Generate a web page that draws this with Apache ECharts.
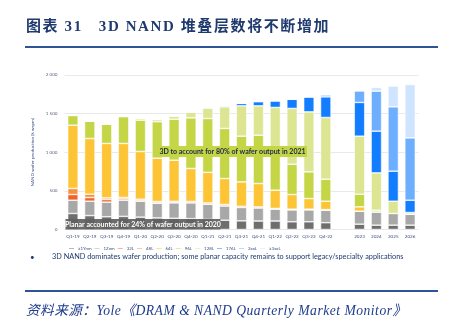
<!DOCTYPE html>
<html><head><meta charset="utf-8">
<script src="https://cdn.jsdelivr.net/npm/echarts@6/dist/echarts.min.js"></script>
<style>
html,body{margin:0;padding:0;background:#fff;}
#wrap{position:relative;width:455px;height:324px;overflow:hidden;}
#chart{position:absolute;left:0;top:0;width:455px;height:324px;}
.title{position:absolute;left:26px;top:14px;font-family:"Liberation Serif","Noto Sans CJK SC",serif;font-weight:bold;font-size:15px;color:#1f3a6e;white-space:nowrap;letter-spacing:1.6px;}
.rule{position:absolute;left:25px;width:413px;height:2px;background:#2f5496;}
.source{position:absolute;left:26px;top:299px;font-family:"Liberation Serif","Noto Sans CJK SC",serif;font-style:italic;font-size:13.6px;color:#1f3c8c;white-space:nowrap;letter-spacing:0.5px;}
</style></head>
<body><div id="wrap">
<div id="chart"></div>
<div class="title">图表 31&nbsp;&nbsp;&nbsp;3D NAND 堆叠层数将不断增加</div>
<div class="rule" style="top:46px"></div>
<div class="rule" style="top:290px"></div>
<div class="source">资料来源：Yole《DRAM &amp; NAND Quarterly Market Monitor》</div>
</div>
<script>
const categories = ['Q1-19','Q2-19','Q3-19','Q4-19','Q1-20','Q2-20','Q3-20','Q4-20','Q1-21','Q2-21','Q3-21','Q4-21','Q1-22','Q2-22','Q3-22','Q4-22','','2023','2024','2025','2026'];
const yTicks = [0, 500, 1000, 1500, 2000];
const seriesNames = ['≥1Ynm','1Znm','32L','48L','64L','96L','128L','176L','2xxL','≥3xxL'];
const nm1Y  = [207,180,165,170,160,150,145,140,130,120,112,110,110,100,100, 88,null, 69, 56, 56, 56];
const nm1Z  = [172,186,189,209,206,190,200,205,198,186,173,170,155,155,155,162,null,168,172,151,142];
const l32   = [ 74, 48, 34, 17,  9,  5,  5,  3,  0,  0,  0,  0,  0,  0,  0,  0,null,  0,  0,  0,  0];
const l48   = [ 78, 43, 21, 18, 17, 17, 15, 15, 16, 18, 15, 13,  8,  8,  8,  8,null,  0,  0,  0,  0];
const l64   = [819,721,705,700,618,561,532,427,396,336,316,302,236,190,138,108,null, 56,  0,  0,  0];
const l96   = [126,227,250,346,405,472,531,655,697,648,592,626,491,392,345,285,null,164, 22,  0,  0];
const l128  = [  0,  0,  0, 10, 22, 28, 43, 78,138,280,393,380,580,722,777,799,null,751,483,159, 22];
const l176  = [  0,  0,  0,  0,  0,  0,  0,  0,  0, 13, 31, 55, 86,119,194,267,null,437,540,389,159];
const l2xx  = [  0,  0,  0,  0,  0,  0,  0,  0,  0,  0,  0,  0,  0,  0,  0, 26,null,150,518,833,807];
const l3xx  = [  0,  0,  0,  0,  0,  0,  0,  0,  0,  0,  0,  0,  0,  0,  0,  0,null,  0, 48,268,691];
const colors = ['#6e6e6e','#a8a8a8','#f0622c','#f6913f','#fdc435','#c4d546','#dce592','#137dff','#6daeff','#cfe4ff'];
const allData = [nm1Y,nm1Z,l32,l48,l64,l96,l128,l176,l2xx,l3xx];

const chart = echarts.init(document.getElementById('chart'), null, {renderer:'canvas'});
const fmt = v => v >= 1000 ? (Math.floor(v/1000) + ' ' + String(v%1000).padStart(3,'0')) : String(v);
chart.setOption({
  animation:false,
  grid:{left:64.5, right:36.5, top:75, bottom:94.5, containLabel:false},
  xAxis:{type:'category', data:categories,
    axisLine:{show:false}, axisTick:{show:false},
    axisLabel:{fontSize:4.6, color:'#3a4f86', margin:5, interval:0, fontFamily:'Lato'}},
  yAxis:{type:'value', min:yTicks[0], max:yTicks[yTicks.length-1], interval:500,
    name:'NAND wafer production (k wspm)', nameLocation:'middle', nameGap:19, nameRotate:90,
    nameTextStyle:{fontSize:4.6, color:'#3a4f86', fontFamily:'Lato'},
    axisLabel:{fontSize:4.6, color:'#5a6585', margin:7, formatter:fmt, fontFamily:'Lato'},
    splitLine:{lineStyle:{color:'#e9e9e9', width:1}}},
  legend:{left:62, top:241, itemWidth:7, itemHeight:2.5, itemGap:1, icon:'rect',
    textStyle:{fontSize:4.4, color:'#3a4f86', padding:[0,0,0,-2], fontFamily:'Lato'},
    data:seriesNames},
  series: seriesNames.map((n,i)=>({
    name:n, type:'bar', stack:'total', data:allData[i], barWidth:10.5,
    itemStyle:{color:colors[i], borderColor:'#ffffff', borderWidth:0.6},
    emphasis:{disabled:true}
  })),
  graphic:[
    {type:'group', left:158, top:146, z:100, children:[
      {type:'rect', z:100, shape:{x:0,y:0,width:149,height:11}, style:{fill:'#c4d546'}},
      {type:'text', z:101, style:{x:74.5,y:5.7,text:'3D to account for 80% of wafer output in 2021', align:'center', verticalAlign:'middle', font:'bold 7px Lato', fill:'#1c2a48'}}
    ]},
    {type:'group', left:65, top:219, z:100, children:[
      {type:'rect', z:100, shape:{x:0,y:0,width:155,height:10.5}, style:{fill:'rgba(95,95,95,0.92)'}},
      {type:'text', z:101, style:{x:77.5,y:5.5,text:'Planar accounted for 24% of wafer output in 2020', align:'center', verticalAlign:'middle', font:'bold 7px Lato', fill:'#ffffff'}}
    ]},
    {type:'text', left:30, top:253, z:100, style:{text:'•', font:'8px Lato', fill:'#1f3a6e'}},
    {type:'text', left:52, top:253, z:100, style:{text:'3D NAND dominates wafer production; some planar capacity remains to support legacy/specialty applications', font:'7.3px Lato', fill:'#1f3a6e'}}
  ]
});
</script>
</body></html>
